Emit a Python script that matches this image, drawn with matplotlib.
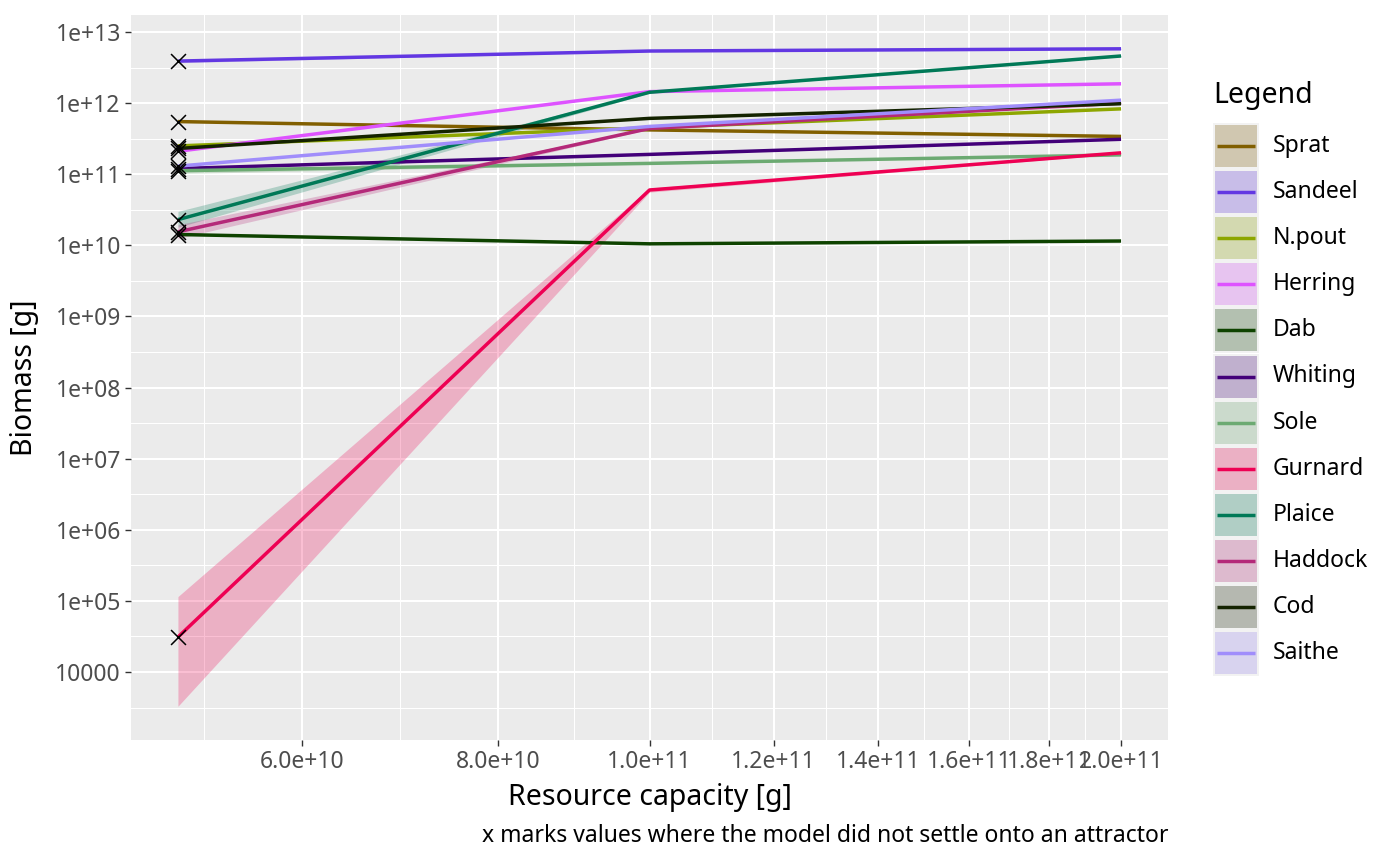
import numpy as np
import matplotlib
matplotlib.use("Agg")
import matplotlib.pyplot as plt
from matplotlib.patches import Rectangle
from matplotlib.ticker import FixedLocator, FixedFormatter, NullFormatter

plt.rcParams['font.family'] = ['Noto Sans', 'DejaVu Sans']

# resource capacity values along the x axis
capacity = [5e10, 1e11, 2e11]

species = ["Sprat", "Sandeel", "N.pout", "Herring", "Dab", "Whiting",
           "Sole", "Gurnard", "Plaice", "Haddock", "Cod", "Saithe"]

colours = {
    "Sprat": "#815f00", "Sandeel": "#6237e2", "N.pout": "#8da600",
    "Herring": "#de53ff", "Dab": "#0e4300", "Whiting": "#430079",
    "Sole": "#6caa72", "Gurnard": "#ee0053", "Plaice": "#007957",
    "Haddock": "#b42979", "Cod": "#142300", "Saithe": "#a08dfb",
}

# median biomass at each capacity
biomass = {
    "Sprat":   [5.5e11, 4.2e11, 3.4e11],
    "Sandeel": [3.9e12, 5.4e12, 5.8e12],
    "N.pout":  [2.5e11, 4.5e11, 8.3e11],
    "Herring": [2.1e11, 1.45e12, 1.87e12],
    "Dab":     [1.42e10, 1.05e10, 1.15e10],
    "Whiting": [1.2e11, 1.9e11, 3.1e11],
    "Sole":    [1.12e11, 1.42e11, 1.87e11],
    "Gurnard": [3.1e4, 6.0e10, 2.0e11],
    "Plaice":  [2.3e10, 1.42e12, 4.6e12],
    "Haddock": [1.55e10, 4.4e11, 1.0e12],
    "Cod":     [2.3e11, 6.1e11, 9.8e11],
    "Saithe":  [1.3e11, 4.7e11, 1.1e12],
}

# ribbon bounds (only where visible)
ribbon_lo = {
    "Sandeel": [3.7e12, 5.3e12, 5.7e12],
    "Sole":    [1.02e11, 1.39e11, 1.84e11],
    "Gurnard": [3.3e3, 5.6e10, 1.95e11],
    "Plaice":  [1.8e10, 1.38e12, 4.5e12],
    "Haddock": [1.25e10, 4.3e11, 0.98e12],
}
ribbon_hi = {
    "Sandeel": [4.1e12, 5.5e12, 5.9e12],
    "Sole":    [1.22e11, 1.45e11, 1.9e11],
    "Gurnard": [1.15e5, 6.4e10, 2.05e11],
    "Plaice":  [3.0e10, 1.46e12, 4.7e12],
    "Haddock": [1.95e10, 4.5e11, 1.02e12],
}

# runs that did not settle (all at lowest capacity)
unsettled_x = [5e10] * 12
unsettled_y = [biomass[s][0] for s in species]

x_ticks = [6e10, 8e10, 1e11, 1.2e11, 1.4e11, 1.6e11, 1.8e11, 2e11]
x_labels = ["6.0e+10", "8.0e+10", "1.0e+11", "1.2e+11", "1.4e+11",
            "1.6e+11", "1.8e+11", "2.0e+11"]
y_ticks = [1e4, 1e5, 1e6, 1e7, 1e8, 1e9, 1e10, 1e11, 1e12, 1e13]
y_labels = ["10000", "1e+05", "1e+06", "1e+07", "1e+08", "1e+09",
            "1e+10", "1e+11", "1e+12", "1e+13"]

W, H = 1400, 866
fig = plt.figure(figsize=(W / 100, H / 100), dpi=100)
fig.patch.set_facecolor("white")
ax = fig.add_axes([131 / W, 1 - 740 / H, (1168 - 131) / W, (740 - 15) / H])
ax.set_facecolor("#EBEBEB")
ax.set_xscale("log")
ax.set_yscale("log")
ax.set_xlim(10 ** 10.669, 10 ** 11.331)
ax.set_ylim(10 ** 3.044, 10 ** 13.239)

# grid lines, ggplot style
lx = np.log10(x_ticks)
minor_x = [10 ** (lx[0] - (lx[1] - lx[0]) / 2)] + \
          [10 ** ((a + b) / 2) for a, b in zip(lx[:-1], lx[1:])]
minor_y = [10 ** (k + 0.5) for k in range(3, 13)]
for v in minor_x:
    ax.axvline(v, color="white", lw=0.75, zorder=0.5)
for v in minor_y:
    ax.axhline(v, color="white", lw=0.75, zorder=0.5)
for v in x_ticks:
    ax.axvline(v, color="white", lw=1.5, zorder=0.6)
for v in y_ticks:
    ax.axhline(v, color="white", lw=1.5, zorder=0.6)

for s in species:
    if s in ribbon_lo:
        ax.fill_between(capacity, ribbon_lo[s], ribbon_hi[s],
                        color=colours[s], alpha=0.25, lw=0, zorder=1)
for s in species:
    ax.plot(capacity, biomass[s], color=colours[s], lw=2.5, zorder=2,
            solid_capstyle="butt")

ax.scatter(unsettled_x, unsettled_y, marker="x", s=115, color="black",
           linewidths=1.1, zorder=3)

ax.xaxis.set_major_locator(FixedLocator(x_ticks))
ax.xaxis.set_major_formatter(FixedFormatter(x_labels))
ax.xaxis.set_minor_formatter(NullFormatter())
ax.xaxis.set_minor_locator(FixedLocator([]))
ax.yaxis.set_major_locator(FixedLocator(y_ticks))
ax.yaxis.set_major_formatter(FixedFormatter(y_labels))
ax.yaxis.set_minor_locator(FixedLocator([]))
ax.tick_params(axis="both", which="major", length=4.3, width=1.0,
               color="#333333", labelcolor="#4D4D4D", labelsize=16.5, pad=3)
for sp in ax.spines.values():
    sp.set_visible(False)

# overlay axes in pixel coordinates for titles, legend and caption
ov = fig.add_axes([0, 0, 1, 1], facecolor="none")
ov.set_xlim(0, W)
ov.set_ylim(H, 0)
ov.axis("off")

ov.text(650, 797, "Resource capacity [g]", ha="center", va="center",
        fontsize=20.5)
ov.text(25, 378, "Biomass [g]", ha="center", va="center", rotation=90,
        fontsize=20.5)
ov.text(1168, 836, "x marks values where the model did not settle onto an attractor",
        ha="right", va="center", fontsize=16.5)

ov.text(1213, 95, "Legend", ha="left", va="center", fontsize=20.5)
for i, s in enumerate(species):
    yc = 146 + 46.1 * i
    ov.add_patch(Rectangle((1213, yc - 23), 46, 46, facecolor="#F2F2F2",
                           edgecolor="none"))
    ov.add_patch(Rectangle((1215, yc - 21), 42, 42, facecolor="#EBEBEB",
                           edgecolor="none"))
    ov.add_patch(Rectangle((1215, yc - 21), 42, 42, facecolor=colours[s],
                           alpha=0.25, edgecolor="none"))
    ov.plot([1217, 1255], [yc, yc], color=colours[s], lw=2.5,
            solid_capstyle="butt")
    ov.text(1273, yc, s, ha="left", va="center", fontsize=16.5)

fig.savefig("out.png", dpi=100)
